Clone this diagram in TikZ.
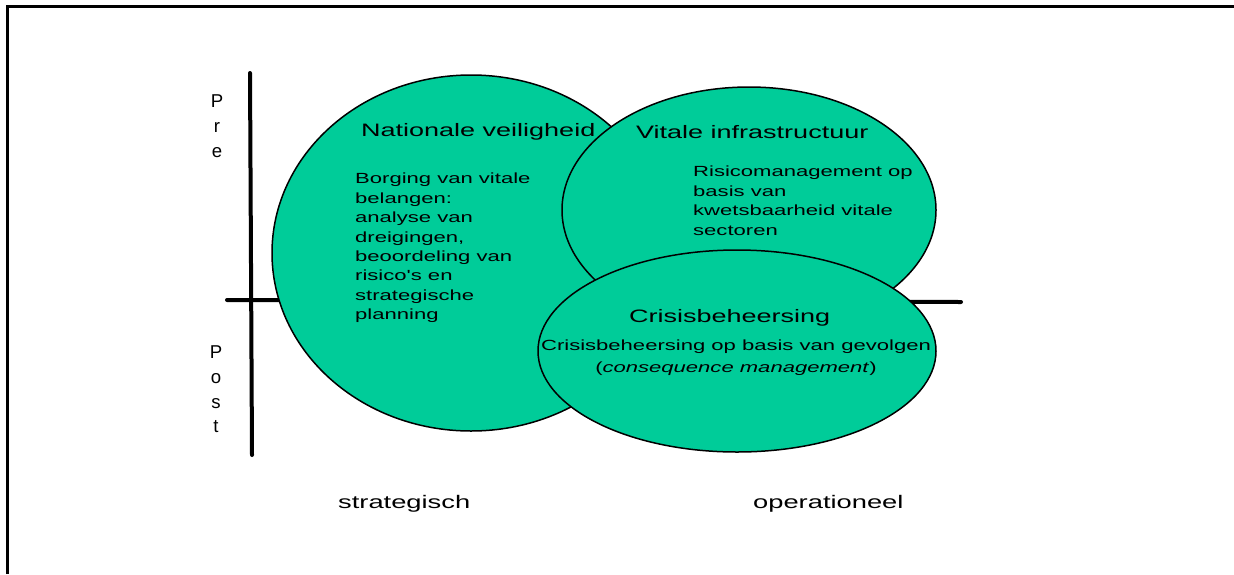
\documentclass[tikz,border=0pt]{standalone}
\usepackage{fontspec}
\setmainfont{Liberation Sans}
\newfontfamily\widefnt[FakeStretch=1.5]{Liberation Sans}
\definecolor{blobgreen}{RGB}{0,204,153}
\begin{document}
\begin{tikzpicture}[x=1pt,y=-1pt,
  blob/.style={draw=black,line width=1.5pt,fill=blobgreen},
  axisline/.style={line width=4pt,line cap=round},
  framel/.style={line width=3pt},
  ttl/.style={font={\widefnt\fontsize{18}{22}\selectfont},inner sep=0pt,anchor=base west},
  bdy/.style={font={\widefnt\fontsize{14.7}{19.4}\selectfont},inner sep=0pt,anchor=north west,align=left},
  lbl/.style={font={\widefnt\fontsize{18.2}{22}\selectfont},inner sep=0pt,anchor=base west},
  ltr/.style={font={\fontsize{18.6}{22}\selectfont},inner sep=0pt,anchor=base}]
\useasboundingbox (0,0) rectangle (1234,574);
% frame
\coordinate (ftl) at (7,6);
\coordinate (ftr) at (1234,6);
\coordinate (fbl) at (7,574);
\draw[framel] (fbl) -- (ftl) -- (ftr);
% axes
\coordinate (hl) at (227,300);
\coordinate (hr) at (961,302);
\coordinate (vt) at (250,73);
\coordinate (vb) at (252,455);
\draw[axisline] (hl) -- (hr);
\draw[axisline] (vt) -- (vb);
% ellipses
\path[blob] (471,253) ellipse [x radius=199, y radius=178];
\path[blob] (749,210) ellipse [x radius=187, y radius=123];
\path[blob] (737,351) ellipse [x radius=199, y radius=101];
% texts
\node[ttl] (t1) at (361,136) {Nationale veiligheid};
\node[bdy] (b1) at (355,173) {Borging van vitale\\belangen:\\analyse van\\dreigingen,\\beoordeling van\\risico's en\\strategische\\planning};
\node[ttl] (t2) at (636,138) {Vitale infrastructuur};
\node[bdy] (b2) at (693,166) {Risicomanagement op\\basis van\\kwetsbaarheid vitale\\sectoren};
\node[ttl] (t3) at (629,322) {Crisisbeheersing};
\node[bdy,anchor=base,align=center] (b3) at (736,350) {Crisisbeheersing op basis van gevolgen};
\node[bdy,anchor=base,align=center] (b3b) at (736,372) {(\textit{consequence management})};
% axis letters
\node[ltr] (p1) at (217,107) {P};
\node[ltr] (p2) at (217,132) {r};
\node[ltr] (p3) at (217,157) {e};
\node[ltr] (q1) at (216,358) {P};
\node[ltr] (q2) at (216,383) {o};
\node[ltr] (q3) at (216,408) {s};
\node[ltr] (q4) at (216,432) {t};
\node[lbl] (s1) at (338,508) {strategisch};
\node[lbl] (s2) at (753,508) {operationeel};
\end{tikzpicture}
\end{document}
